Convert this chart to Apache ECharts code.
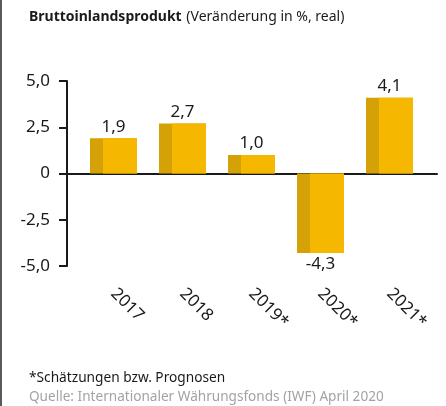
<!DOCTYPE html>
<html>
<head>
<meta charset="utf-8">
<script src="https://cdn.jsdelivr.net/npm/echarts@6/dist/echarts.min.js"></script>
<style>
html,body{margin:0;padding:0;background:#fff;}
#wrap{position:relative;width:446px;height:406px;}
#chart{width:446px;height:406px;}
#edge{position:absolute;left:0;top:0;width:2px;height:406px;background:#5a5a5a;}
</style>
</head>
<body>
<div id="wrap"><div id="chart"></div><div id="edge"></div></div>
<script>
const categories = ['2017', '2018', '2019*', '2020*', '2021*'];
const values = [1.9, 2.7, 1.0, -4.3, 4.1];
const yTickValues = [-5, -2.5, 0, 2.5, 5];
const yTickLabels = ['-5,0', '-2,5', '0', '2,5', '5,0'];
const titleBold = 'Bruttoinlandsprodukt';
const titleRest = '(Veränderung in %, real)';
const footnote = '*Schätzungen bzw. Prognosen';
const source = 'Quelle: Internationaler Währungsfonds (IWF) April 2020';

const FONT = '"Noto Sans", "Open Sans", sans-serif';
const DARK = '#d4a106';
const LIGHT = '#f5b700';
const fmt = v => v.toFixed(1).replace('.', ',');

const chart = echarts.init(document.getElementById('chart'), null, {renderer: 'canvas'});
chart.setOption({
  animation: false,
  textStyle: {fontFamily: FONT},
  title: [
    {
      left: 29, top: 8, padding: 0,
      text: '{b|' + titleBold + '} {r|' + titleRest + '}',
      textStyle: {
        rich: {
          b: {fontFamily: FONT, fontSize: 14, fontWeight: 'bold', color: '#1a1a1a'},
          r: {fontFamily: FONT, fontSize: 14, fontWeight: 'normal', color: '#1a1a1a'}
        }
      }
    },
    {left: 29, top: 371, padding: 0, text: footnote,
     textStyle: {fontFamily: FONT, fontSize: 13.7, fontWeight: 'normal', color: '#1a1a1a'}},
    {left: 29, top: 390, padding: 0, text: source,
     textStyle: {fontFamily: FONT, fontSize: 13.6, fontWeight: 'normal', color: '#a3a3a3'}}
  ],
  grid: [
    {left: 67, right: 9, top: 81, bottom: 140},
    {left: 79, right: 22, top: 81, bottom: 140}
  ],
  xAxis: [
    {
      gridIndex: 0, type: 'value', min: 0, max: 1,
      axisLine: {show: true, onZero: true, lineStyle: {color: '#1a1a1a', width: 2}},
      axisTick: {show: false}, axisLabel: {show: false}, splitLine: {show: false}
    },
    {
      gridIndex: 1, type: 'category', data: categories, position: 'bottom',
      axisLine: {show: false, onZero: false}, axisTick: {show: false}, splitLine: {show: false},
      axisLabel: {rotate: -45, margin: 25, fontSize: 17, color: '#1a1a1a', fontFamily: FONT, interval: 0}
    }
  ],
  yAxis: [
    {
      gridIndex: 0, type: 'value', min: -5, max: 5, interval: 2.5,
      axisLine: {show: true, onZero: false, lineStyle: {color: '#1a1a1a', width: 2}},
      axisTick: {show: true, inside: false, length: 8, lineStyle: {color: '#1a1a1a', width: 2}},
      splitLine: {show: false},
      axisLabel: {
        margin: 17, fontSize: 17, color: '#1a1a1a', fontFamily: FONT,
        formatter: v => {
          const i = yTickValues.findIndex(t => Math.abs(t - v) < 1e-9);
          return i >= 0 ? yTickLabels[i] : '';
        }
      }
    },
    {gridIndex: 1, type: 'value', min: -5, max: 5, show: false}
  ],
  series: [
    {
      type: 'bar', xAxisIndex: 1, yAxisIndex: 1, barWidth: 47, barGap: '-72.34%',
      itemStyle: {color: DARK},
      data: values.map(v => ({
        value: v,
        label: {position: v < 0 ? 'bottom' : 'top'}
      })),
      label: {
        show: true, distance: 3, fontSize: 17, color: '#1a1a1a', fontFamily: FONT,
        formatter: p => fmt(p.value)
      },
      z: 2
    },
    {
      type: 'bar', xAxisIndex: 1, yAxisIndex: 1, barWidth: 34, barGap: '-72.34%',
      itemStyle: {color: LIGHT},
      data: values.slice(),
      z: 3
    }
  ]
});
</script>
</body>
</html>
